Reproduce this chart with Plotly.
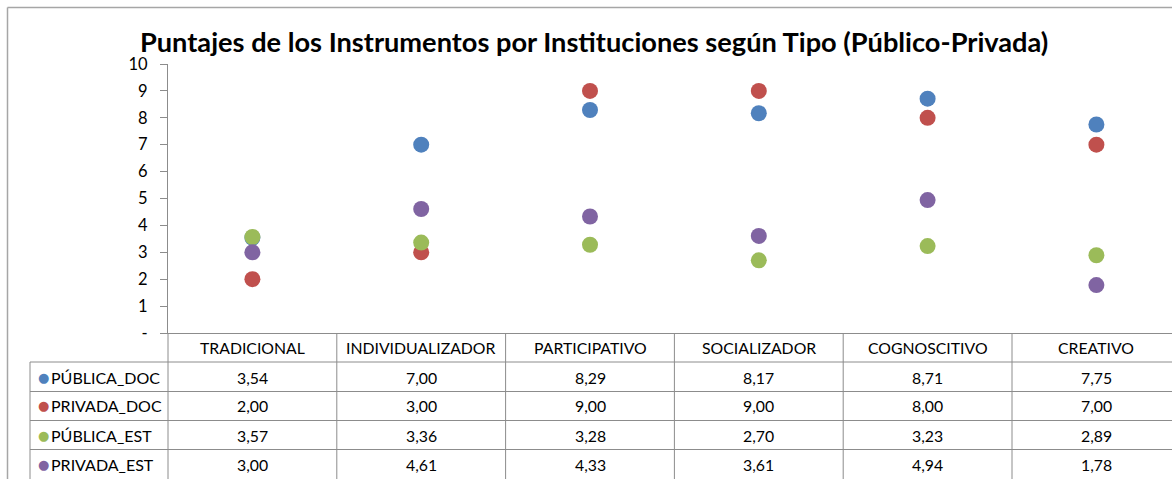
import plotly.graph_objects as go

categories = ["TRADICIONAL", "INDIVIDUALIZADOR", "PARTICIPATIVO", "SOCIALIZADOR", "COGNOSCITIVO", "CREATIVO"]
series_names = ["PÚBLICA_DOC", "PRIVADA_DOC", "PÚBLICA_EST", "PRIVADA_EST"]
publica_doc = [3.54, 7.00, 8.29, 8.17, 8.71, 7.75]
privada_doc = [2.00, 3.00, 9.00, 9.00, 8.00, 7.00]
publica_est = [3.57, 3.36, 3.28, 2.70, 3.23, 2.89]
privada_est = [3.00, 4.61, 4.33, 3.61, 4.94, 1.78]
y_tick_vals = [0, 1, 2, 3, 4, 5, 6, 7, 8, 9, 10]
y_tick_text = ["-", "1", "2", "3", "4", "5", "6", "7", "8", "9", "10"]
title_text = "Puntajes de los Instrumentos por Instituciones según Tipo (Público-Privada)"

series_values = [publica_doc, privada_doc, publica_est, privada_est]
colors = ["#4F81BD", "#C0504D", "#9BBB59", "#8064A2"]

W, H = 1172, 479
L, T, B = 168, 64, 333
R_FIG = W
plot_h = B - T
plot_w = R_FIG - L
col_w = 168.8
x_max = plot_w / col_w

FONT = "Lato"
GRID = "#8C8C8C"

def py(screen_y):
    return (B - screen_y) / plot_h

def pxx(screen_x):
    return (screen_x - L) / plot_w

xs = [i + 0.5 for i in range(len(categories))]

fig = go.Figure()
for name, vals, c in zip(series_names, series_values, colors):
    fig.add_trace(go.Scatter(x=xs, y=vals, mode="markers", name=name,
                             marker=dict(color=c, size=16, line=dict(width=0)),
                             showlegend=False))

shapes = []
row_lines = [362, 391.5, 420.5, 449.5]
table_bottom = 520
for r in row_lines:
    shapes.append(dict(type="line", xref="paper", yref="paper", x0=pxx(30), x1=1.02,
                       y0=py(r), y1=py(r), line=dict(color=GRID, width=1)))
for k in range(1, len(categories)):
    shapes.append(dict(type="line", xref="x", yref="paper", x0=k, x1=k,
                       y0=0, y1=py(table_bottom), line=dict(color=GRID, width=1)))
shapes.append(dict(type="line", xref="paper", yref="paper", x0=0, x1=0,
                   y0=0, y1=py(table_bottom), line=dict(color=GRID, width=1)))
shapes.append(dict(type="line", xref="paper", yref="paper", x0=pxx(30), x1=pxx(30),
                   y0=py(362), y1=py(table_bottom), line=dict(color=GRID, width=1)))
# outer chart border (top and left)
shapes.append(dict(type="line", xref="paper", yref="paper", x0=pxx(7.5), x1=pxx(7.5),
                   y0=py(7.5), y1=py(table_bottom), line=dict(color="#A6A6A6", width=1.5)))
shapes.append(dict(type="line", xref="paper", yref="paper", x0=pxx(7.5), x1=1.02,
                   y0=py(7.5), y1=py(7.5), line=dict(color="#A6A6A6", width=1.5)))

annotations = []
annotations.append(dict(text="<b>" + title_text + "</b>", xref="paper", yref="paper",
                        x=pxx(594), y=py(41), xanchor="center", yanchor="middle",
                        showarrow=False, font=dict(family=FONT, size=27.2, color="#000000")))
TS = 15.8
for x, cat in zip(xs, categories):
    annotations.append(dict(text=cat, xref="x", yref="paper", x=x, y=py(347.5),
                            xanchor="center", yanchor="middle", showarrow=False,
                            font=dict(family=FONT, size=TS, color="#000000")))
row_centers = [377, 406, 435, 464]
for name, vals, c, rc in zip(series_names, series_values, colors, row_centers):
    annotations.append(dict(text="●", xref="paper", yref="paper", x=pxx(43), y=py(rc),
                            xanchor="center", yanchor="middle", showarrow=False,
                            font=dict(family="DejaVu Sans", size=13, color=c)))
    annotations.append(dict(text=name, xref="paper", yref="paper", x=pxx(49), y=py(rc),
                            xanchor="left", yanchor="middle", showarrow=False,
                            font=dict(family=FONT, size=16, color="#000000")))
    for x, v in zip(xs, vals):
        annotations.append(dict(text=f"{v:.2f}".replace(".", ","), xref="x", yref="paper",
                                x=x, y=py(rc), xanchor="center", yanchor="middle",
                                showarrow=False,
                                font=dict(family=FONT, size=TS, color="#000000")))

fig.update_layout(
    width=W, height=H,
    margin=dict(l=L, r=W - R_FIG, t=T, b=H - B, pad=0),
    paper_bgcolor="white", plot_bgcolor="white",
    shapes=shapes, annotations=annotations,
    xaxis=dict(range=[0, x_max], showgrid=False, zeroline=False, showticklabels=False,
               showline=True, linecolor=GRID, linewidth=1, ticks="", fixedrange=True),
    yaxis=dict(range=[0, 10], tickvals=y_tick_vals, ticktext=y_tick_text,
               showgrid=False, zeroline=False, showline=True, linecolor=GRID, linewidth=1,
               ticks="outside", ticklen=7, tickcolor=GRID, tickwidth=1,
               ticklabelstandoff=9,
               tickfont=dict(family=FONT, size=16.5, color="#000000"), fixedrange=True),
    font=dict(family=FONT),
)

fig.write_html("out.html", config={"displayModeBar": False},
               post_script="document.body.style.margin='0';document.body.style.overflow='hidden';")
